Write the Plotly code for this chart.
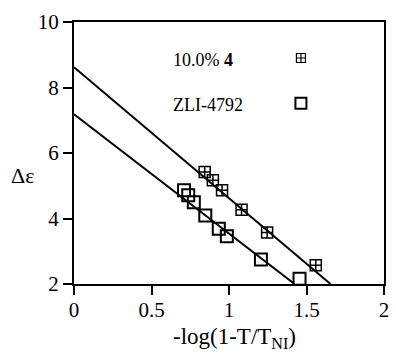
import plotly.graph_objects as go

# Data
x_doped = [0.843, 0.896, 0.955, 1.081, 1.246, 1.560]
y_doped = [5.42, 5.17, 4.86, 4.27, 3.57, 2.57]

x_host = [0.710, 0.737, 0.773, 0.847, 0.934, 0.986, 1.206, 1.455]
y_host = [4.86, 4.71, 4.50, 4.09, 3.69, 3.46, 2.75, 2.16]

fit_doped_x = [0.0, 1.655]
fit_doped_y = [8.62, 2.0]
fit_host_x = [0.0, 1.423]
fit_host_y = [7.18, 2.0]

legend_labels = ["10.0% <b>4</b>", "ZLI-4792"]
legend_key_x = [1.464, 1.464]
legend_key_y = [8.90, 7.52]

x_ticks = [0, 0.5, 1, 1.5, 2]
x_ticklabels = ["0", "0.5", "1", "1.5", "2"]
y_ticks = [2, 4, 6, 8, 10]

FONT = "Liberation Serif"

fig = go.Figure()
fig.add_trace(go.Scatter(x=fit_doped_x, y=fit_doped_y, mode="lines",
                         line=dict(color="black", width=2), showlegend=False))
fig.add_trace(go.Scatter(x=fit_host_x, y=fit_host_y, mode="lines",
                         line=dict(color="black", width=2), showlegend=False))
fig.add_trace(go.Scatter(x=x_doped, y=y_doped, mode="markers",
                         marker=dict(symbol="square-cross-open", size=11, color="black",
                                     line=dict(width=1.5, color="black")),
                         cliponaxis=False, showlegend=False))
fig.add_trace(go.Scatter(x=x_host, y=y_host, mode="markers",
                         marker=dict(symbol="square-open", size=12, color="black",
                                     line=dict(width=2, color="black")),
                         cliponaxis=False, showlegend=False))
# legend keys
fig.add_trace(go.Scatter(x=[legend_key_x[0]], y=[legend_key_y[0]], mode="markers",
                         marker=dict(symbol="square-cross-open", size=9, color="black",
                                     line=dict(width=1.2, color="black")),
                         showlegend=False))
fig.add_trace(go.Scatter(x=[legend_key_x[1]], y=[legend_key_y[1]], mode="markers",
                         marker=dict(symbol="square-open", size=11, color="black",
                                     line=dict(width=2, color="black")),
                         showlegend=False))

for lab, ky in zip(legend_labels, legend_key_y):
    fig.add_annotation(x=0.625, y=ky - 0.05, xref="x", yref="y", text=lab, showarrow=False,
                       xanchor="left", yanchor="middle",
                       font=dict(family=FONT, size=18, color="black"))

fig.add_annotation(x=-0.165, y=0.416, xref="paper", yref="paper", text="Δε",
                   showarrow=False, xanchor="center", yanchor="middle",
                   font=dict(family=FONT, size=22, color="black"))

# x axis title as annotation for exact placement
fig.add_annotation(x=0.314, y=-0.207, xref="paper", yref="paper",
                   text="-log(1-T/T<sub>NI</sub>)", showarrow=False,
                   xanchor="left", yanchor="middle",
                   font=dict(family=FONT, size=23, color="black"))

fig.update_xaxes(range=[0, 2], tickvals=x_ticks, ticktext=x_ticklabels,
                 ticks="outside", ticklen=9, tickwidth=1.5, tickcolor="black",
                 ticklabelstandoff=-3,
                 showline=True, linecolor="black", linewidth=2, mirror=True,
                 showgrid=False, zeroline=False,
                 tickfont=dict(family=FONT, size=21, color="black"))
fig.update_yaxes(range=[2, 10], tickvals=y_ticks,
                 ticks="outside", ticklen=9, tickwidth=1.5, tickcolor="black",
                 showline=True, linecolor="black", linewidth=2, mirror=True,
                 showgrid=False, zeroline=False,
                 tickfont=dict(family=FONT, size=21, color="black"))

fig.update_layout(width=396, height=353,
                  margin=dict(l=74, r=7, t=22, b=69),
                  paper_bgcolor="white", plot_bgcolor="white")

fig.write_html("out.html")
